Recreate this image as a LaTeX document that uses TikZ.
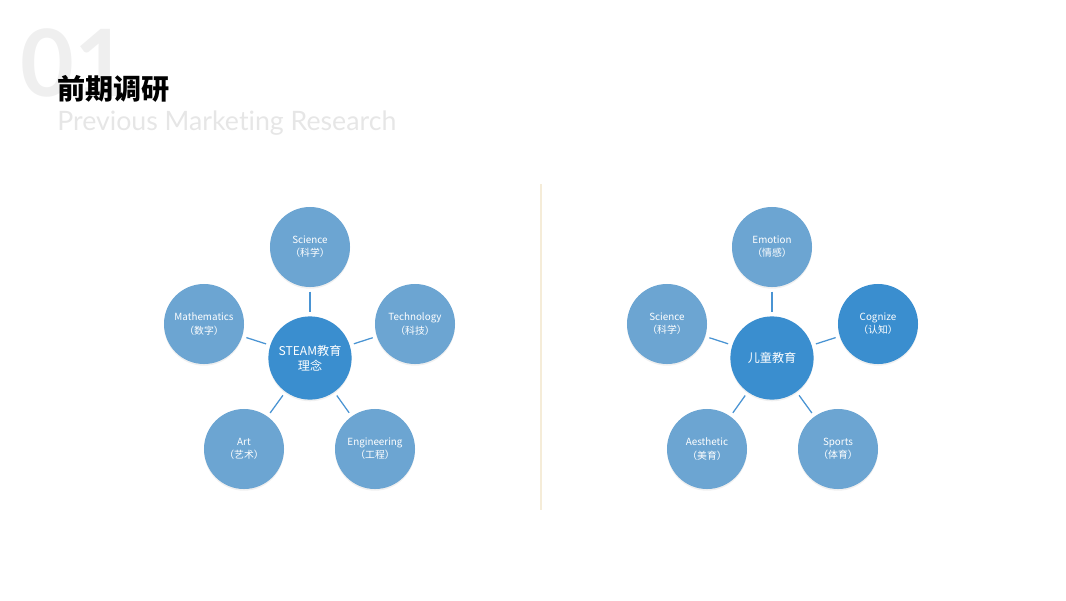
\documentclass[tikz,border=0pt]{standalone}
\usepackage{fontspec}
\setmainfont{Noto Sans CJK SC}
\newfontfamily\cjk{Noto Sans CJK SC}
\newfontfamily\latin[Ligatures=NoCommon]{Lato}
\usepackage{tikz}
\usetikzlibrary{positioning,shadows}
\definecolor{outerfill}{HTML}{6CA5D2}
\definecolor{corefill}{HTML}{3A8ECF}
\definecolor{spoke}{HTML}{4A94D3}
\definecolor{divider}{HTML}{F5ECD8}
\definecolor{ghost}{HTML}{EFEFEF}
\definecolor{subtitle}{HTML}{E6E6E6}
\tikzset{
  % --- petal circles round a hub ---
  petal/.style={circle, fill=outerfill, draw=none, minimum size=2cm, inner sep=0pt,
                align=center, text=white, font=\cjk\fontsize{7}{9.4}\selectfont,
                drop shadow={opacity=0.12, shadow xshift=0pt, shadow yshift=-1.2pt}},
  petalhot/.style={petal, fill=corefill},
  hub/.style={petal, fill=corefill, minimum size=2.08cm,
              font=\cjk\fontsize{8.6}{11}\selectfont},
  spokeline/.style={draw=spoke, line width=0.9pt, shorten <=3pt, shorten >=3pt},
}
\begin{document}
\begin{tikzpicture}[x=0.025cm, y=-0.025cm]
  \useasboundingbox (0,0) rectangle (1066,600);
  % --- heading ---
  \node[anchor=west, text=ghost, font=\latin\bfseries\fontsize{66}{66}\selectfont, inner sep=0pt]
        (num) at (20,63) {01};
  \node[anchor=west, font=\cjk\bfseries\fontsize{20}{20}\selectfont, inner sep=0pt]
        (title) at (57,89) {前期调研};
  \node[anchor=west, text=subtitle, font=\latin\fontsize{19}{19}\selectfont, inner sep=0pt]
        (sub) at (57,123) {Previous Marketing Research};

  % --- divider ---
  \coordinate (dtop) at (541,184);
  \coordinate (dbot) at (541,510);
  \draw[divider, line width=1pt] (dtop) -- (dbot);

  % --- left: STEAM ---
  \node[hub]   (steam) at (310,358) {STEAM教育\\理念};
  \node[petal] (sci)   at (310,247) {Science\\（科学）};
  \node[petal] (math)  at (204,324) {Mathematics\\（数字）};
  \node[petal] (tech)  at (415,324) {Technology\\（科技）};
  \node[petal] (art)   at (244,449) {Art\\（艺术）};
  \node[petal] (eng)   at (375,449) {Engineering\\（工程）};
  \foreach \p in {sci,math,tech,art,eng}
    \draw[spokeline] (\p) -- (steam);

  % --- right: child education ---
  \node[hub]      (kid) at (772,358) {儿童教育};
  \node[petal]    (emo) at (772,247) {Emotion\\（情感）};
  \node[petal]    (sci2) at (667,324) {Science\\（科学）};
  \node[petalhot] (cog) at (878,324) {Cognize\\（认知）};
  \node[petal]    (aes) at (707,449) {Aesthetic\\（美育）};
  \node[petal]    (spo) at (838,449) {Sports\\（体育）};
  \foreach \p in {emo,sci2,cog,aes,spo}
    \draw[spokeline] (\p) -- (kid);
\end{tikzpicture}
\end{document}
